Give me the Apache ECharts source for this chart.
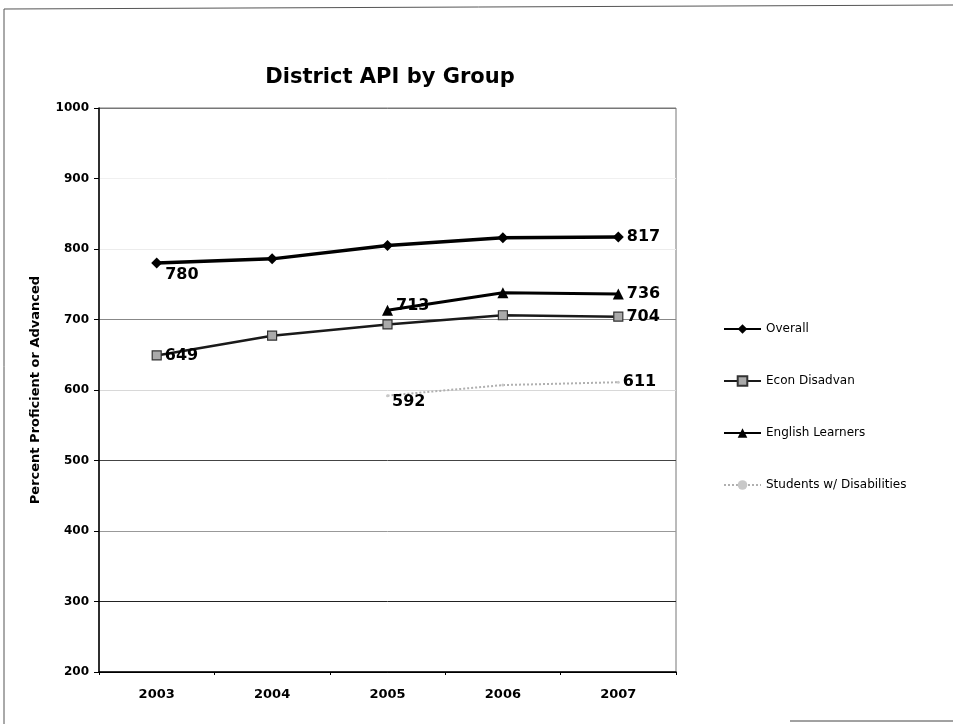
<!DOCTYPE html>
<html>
<head>
<meta charset="utf-8">
<script src="https://cdn.jsdelivr.net/npm/echarts@6/dist/echarts.min.js"></script>
<style>
  html, body { margin: 0; padding: 0; background: #fff; }
  #chart { width: 953px; height: 724px; }
</style>
</head>
<body>
<div id="chart"></div>
<script>
// District API by Group
const years = ['2003', '2004', '2005', '2006', '2007'];
const overall = [780, 786, 805, 816, 817];
const econDisadvan = [649, 677, 693, 706, 704];
const englishLearners = [null, null, 713, 738, 736];
const studentsDisab = [null, null, 592, 607, 611];

const chart = echarts.init(document.getElementById('chart'));
const FONT = 'DejaVu Sans';

// label only the first and last real value of a series
function withEndLabels(values, firstOffset, lastOffset){
  const idx = values.map((v, i) => v == null ? -1 : i).filter(i => i >= 0);
  const first = idx[0], last = idx[idx.length - 1];
  return values.map((v, i) => {
    if (v == null) return '-';
    if (i === first || i === last){
      return { value: v, label: { show: true, position: 'right', offset: i === first ? firstOffset : lastOffset } };
    }
    return v;
  });
}

const labelStyle = { color: '#000', fontFamily: FONT, fontWeight: 'bold', fontSize: 16, distance: 3, formatter: '{c}' };

chart.setOption({
  backgroundColor: '#fff',
  animation: false,
  title: {
    text: 'District API by Group',
    left: 385,
    top: 62,
    textAlign: 'center',
    textStyle: { fontFamily: FONT, fontWeight: 'bold', fontSize: 21, color: '#000' }
  },
  legend: {
    orient: 'vertical',
    left: 718,
    top: 318,
    itemWidth: 37,
    itemHeight: 12,
    itemGap: 40,
    textStyle: { fontFamily: FONT, fontSize: 12, color: '#000' },
    data: ['Overall', 'Econ Disadvan', 'English Learners', 'Students w/ Disabilities']
  },
  grid: {
    left: 99, right: 277, top: 108, bottom: 52,
    show: true, borderColor: '#777', borderWidth: 1
  },
  xAxis: {
    type: 'category',
    data: years,
    boundaryGap: true,
    axisLine: { lineStyle: { color: '#000', width: 1.5 } },
    axisTick: { show: true, length: 3, lineStyle: { color: '#000' } },
    axisLabel: { fontFamily: FONT, fontWeight: 'bold', fontSize: 13, color: '#000', margin: 16 }
  },
  yAxis: {
    type: 'value',
    min: 200, max: 1000, interval: 100,
    name: 'Percent Proficient or Advanced',
    nameLocation: 'middle',
    nameGap: 57,
    nameTextStyle: { fontFamily: FONT, fontWeight: 'bold', fontSize: 13, color: '#000' },
    axisLine: { show: true, lineStyle: { color: '#000', width: 1.5 } },
    axisTick: { show: true, length: 5, lineStyle: { color: '#000' } },
    axisLabel: { fontFamily: FONT, fontWeight: 'bold', fontSize: 12, color: '#000', margin: 10, formatter: v => String(v) },
    splitLine: {
      show: true,
      lineStyle: { width: 1, color: ['#000', '#222', '#999', '#444', '#d8d8d8', '#888', '#ececec', '#f0f0f0', '#777'] }
    }
  },
  series: [
    {
      name: 'Overall', type: 'line',
      data: withEndLabels(overall, [0, 12], [0, 0]),
      symbol: 'diamond', symbolSize: 11,
      lineStyle: { color: '#000', width: 3.5 },
      itemStyle: { color: '#000' },
      label: labelStyle, z: 5
    },
    {
      name: 'Econ Disadvan', type: 'line',
      data: withEndLabels(econDisadvan, [0, 0], [0, 0]),
      symbol: 'rect', symbolSize: 9,
      lineStyle: { color: '#1a1a1a', width: 2.5 },
      itemStyle: { color: '#aaa', borderColor: '#333', borderWidth: 1.2 },
      label: labelStyle, z: 3
    },
    {
      name: 'English Learners', type: 'line',
      data: withEndLabels(englishLearners, [0, -4], [0, 0]),
      symbol: 'triangle', symbolSize: 11,
      lineStyle: { color: '#000', width: 3 },
      itemStyle: { color: '#000' },
      label: labelStyle, z: 4
    },
    {
      name: 'Students w/ Disabilities', type: 'line',
      data: withEndLabels(studentsDisab, [0, 6], [0, 0]),
      symbol: 'circle', symbolSize: 3,
      lineStyle: { color: '#b0b0b0', width: 2, type: 'dotted' },
      itemStyle: { color: '#c8c8c8' },
      label: labelStyle, z: 2
    }
  ],
  graphic: [
    { type: 'polyline', shape: { points: [[953, 5], [4, 9], [4, 724]] }, style: { stroke: '#555', lineWidth: 1, fill: null } },
    { type: 'line', shape: { x1: 790, y1: 721, x2: 953, y2: 721 }, style: { stroke: '#444', lineWidth: 1 } }
  ]
});
</script>
</body>
</html>
